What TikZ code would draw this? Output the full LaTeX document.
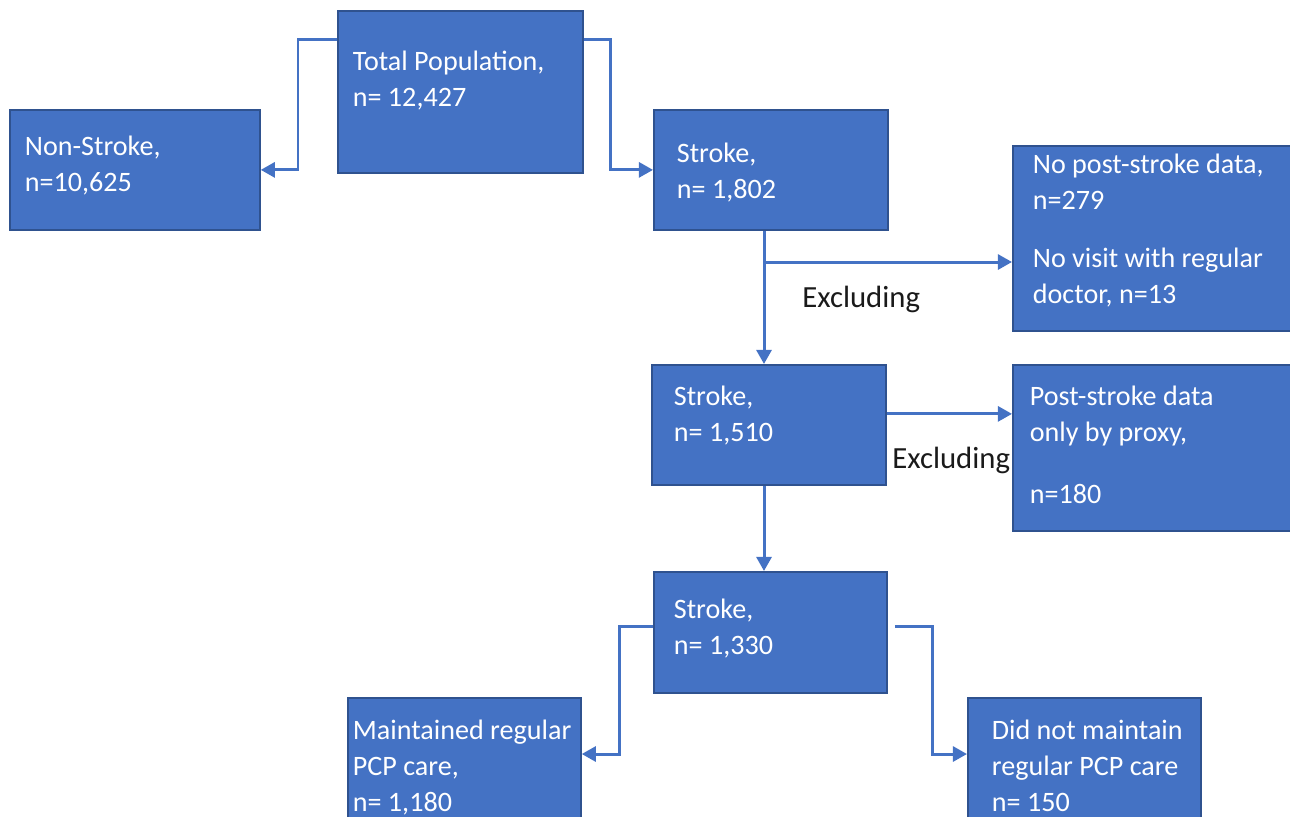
\documentclass[tikz,border=0pt]{standalone}
\usepackage{fontspec}
\setmainfont{Carlito}
\usetikzlibrary{arrows.meta}
\definecolor{boxblue}{HTML}{4472C4}
\definecolor{boxedge}{HTML}{2F528F}
\definecolor{linkblue}{HTML}{4472C4}
\definecolor{labeldark}{HTML}{1A1A1A}
\newdimen\pxu \pxu=0.02cm
% width, height, left pad, top pad, lines (all in px)
\newcommand{\cellbox}[5]{\parbox[t][#2\pxu][t]{#1\pxu}{\raggedright\leftskip=#3\pxu\relax\vspace*{#4\pxu}\strut #5}}

\begin{document}
\begin{tikzpicture}[x=0.02cm,y=-0.02cm,
  flowbox/.style={draw=boxedge,fill=boxblue,line width=1pt,text=white,
    anchor=north west,inner sep=0pt,font=\fontsize{16}{20.5}\selectfont},
  flow/.style={draw=linkblue,line width=1.7pt,-{Triangle[length=8pt,width=8.5pt]}},
  exclude/.style={text=labeldark,inner sep=0pt,anchor=base west,
    font=\fontsize{17.5}{21}\selectfont}]
  \useasboundingbox (0,0) rectangle (1290,816);
  % boxes
  \node[flowbox] (total) at (337,10) {\cellbox{245}{162}{15}{34}{Total Population,\\n= 12,427}};
  \node[flowbox] (nonstroke) at (9,109) {\cellbox{250}{120}{15}{20}{Non-Stroke,\\n=10,625}};
  \node[flowbox] (stroke1) at (653,109) {\cellbox{234}{120}{23}{27}{Stroke,\\n= 1,802}};
  \node[flowbox] (nopost) at (1012,145) {\cellbox{285}{185}{20}{2}{No post-stroke data,\\n=279\\[22\pxu]No visit with regular\\doctor, n=13}};
  \node[flowbox] (stroke2) at (651,364) {\cellbox{234}{120}{22}{15}{Stroke,\\n= 1,510}};
  \node[flowbox] (proxy) at (1012,364) {\cellbox{285}{166}{17}{15}{Post-stroke data\\only by proxy,\\[26\pxu]n=180}};
  \node[flowbox] (stroke3) at (653,571) {\cellbox{233}{121}{20}{21}{Stroke,\\n= 1,330}};
  \node[flowbox] (keptpcp) at (347,697) {\cellbox{233}{140}{5}{16}{Maintained regular\\PCP care,\\n= 1,180}};
  \node[flowbox] (lostpcp) at (967,697) {\cellbox{233}{140}{24}{16}{Did not maintain\\regular PCP care\\n= 150}};
  % labels
  \node[exclude] (excl1) at (802,307) {Excluding};
  \node[exclude] (excl2) at (892,468) {Excluding};
  % connectors
  \coordinate (spine) at (764,0);
  \coordinate (fork) at (764,262);
  \coordinate (exitA) at ([shift={(0,-11)}]stroke2.east);
  \draw[flow] ([shift={(0,29)}]total.north west) -- ++(-39,0) |- (nonstroke.east);
  \draw[flow] ([shift={(0,29)}]total.north east) -- ++(27,0) |- (stroke1.west);
  \draw[flow] (stroke1.south -| spine) -- (stroke2.north -| spine);
  \draw[flow] (fork) -- (fork -| nopost.west);
  \draw[flow] (exitA) -- (exitA -| proxy.west);
  \draw[flow] (stroke2.south -| spine) -- (stroke3.north -| spine);
  \draw[flow] ([shift={(0,-6)}]stroke3.west) -- ++(-34,0) |- ([shift={(0,57)}]keptpcp.north east);
  \draw[flow] ([shift={(7,-6)}]stroke3.east) -- ++(38,0) |- ([shift={(0,57)}]lostpcp.north west);
\end{tikzpicture}
\end{document}
